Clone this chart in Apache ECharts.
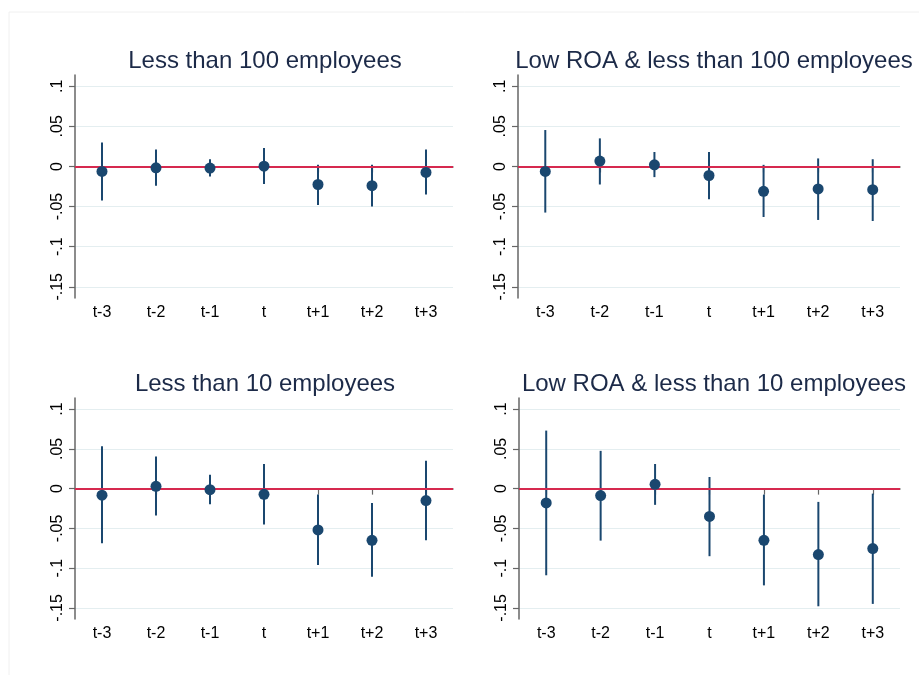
<!DOCTYPE html>
<html>
<head>
<meta charset="utf-8">
<script src="https://cdn.jsdelivr.net/npm/echarts@6/dist/echarts.min.js"></script>
<style>
html,body{margin:0;padding:0;background:#fff;}
#chart{width:919px;height:675px;}
</style>
</head>
<body>
<div id="chart"></div>
<script>
// ---- data ----
const categories = ['t-3', 't-2', 't-1', 't', 't+1', 't+2', 't+3'];
const yTicks = [-0.15, -0.1, -0.05, 0, 0.05, 0.1];
const yTickLabels = ['-.15', '-.1', '-.05', '0', '.05', '.1'];
const titles = ['Less than 100 employees', 'Low ROA & less than 100 employees',
                'Less than 10 employees', 'Low ROA & less than 10 employees'];

const p1Coef = [-0.0062, -0.0017, -0.0020, 0.0004, -0.0225, -0.0240, -0.0075];
const p1Hi   = [0.030, 0.021, 0.009, 0.023, 0.002, 0.002, 0.021];
const p1Lo   = [-0.0425, -0.024, -0.0125, -0.022, -0.048, -0.050, -0.035];

const p2Coef = [-0.0062, 0.0067, 0.0020, -0.0113, -0.031, -0.028, -0.029];
const p2Hi   = [0.0454, 0.035, 0.018, 0.018, 0.002, 0.010, 0.009];
const p2Lo   = [-0.0575, -0.0225, -0.0133, -0.041, -0.063, -0.0667, -0.068];

const p3Coef = [-0.0083, 0.0029, -0.0013, -0.0071, -0.052, -0.065, -0.015];
const p3Hi   = [0.0533, 0.0404, 0.0175, 0.031, -0.0075, -0.018, 0.035];
const p3Lo   = [-0.0688, -0.0338, -0.0196, -0.045, -0.096, -0.111, -0.065];

const p4Coef = [-0.018, -0.0088, 0.0054, -0.035, -0.065, -0.0829, -0.0754];
const p4Hi   = [0.073, 0.0475, 0.031, 0.0146, -0.0075, -0.0167, -0.0063];
const p4Lo   = [-0.109, -0.0654, -0.0204, -0.085, -0.1217, -0.148, -0.145];

const panels = [
  {coef: p1Coef, hi: p1Hi, lo: p1Lo},
  {coef: p2Coef, hi: p2Hi, lo: p2Lo},
  {coef: p3Coef, hi: p3Hi, lo: p3Lo},
  {coef: p4Coef, hi: p4Hi, lo: p4Lo}
];

// ---- layout / style ----
const FONT = 'Liberation Sans, Arial, Helvetica, sans-serif';
const NAVY = '#1a476f';
const grids = [
  {left: 75, top: 75, width: 378, height: 223},
  {left: 518, top: 75, width: 382, height: 223},
  {left: 75, top: 398, width: 378, height: 221},
  {left: 519, top: 398, width: 381, height: 221}
];
const titlePos = [
  {x: 260, y: 44}, {x: 709, y: 44}, {x: 260, y: 367}, {x: 709, y: 367}
];

const option = {
  backgroundColor: '#ffffff',
  animation: false,
  graphic: [{
    type: 'rect', shape: {x: 9, y: 12, width: 940, height: 700},
    style: {fill: 'none', stroke: '#f0f0f0', lineWidth: 1}, silent: true, z: -10
  }],
  title: titles.map((t, i) => ({
    text: t, left: titlePos[i].x, top: titlePos[i].y, textAlign: 'center',
    textStyle: {fontFamily: FONT, fontSize: 24, fontWeight: 'normal', color: '#1c2a48'}
  })),
  grid: grids.map(g => Object.assign({containLabel: false}, g)),
  xAxis: grids.map((g, i) => ({
    type: 'category', gridIndex: i, data: categories, boundaryGap: true,
    axisLine: {show: true, lineStyle: {color: '#666666', width: 1.5}},
    axisTick: {show: true, alignWithLabel: true, length: 6, lineStyle: {color: '#666666', width: 1.2}},
    axisLabel: {fontFamily: FONT, fontSize: 16, color: '#000', margin: 7, interval: 0},
    splitLine: {show: false}
  })),
  yAxis: grids.map((g, i) => ({
    type: 'value', gridIndex: i, min: -0.164, max: 0.114,
    axisLine: {show: true, lineStyle: {color: '#666666', width: 1.5}},
    axisTick: {show: true, length: 6, customValues: yTicks, lineStyle: {color: '#666666', width: 1.2}},
    axisLabel: {
      customValues: yTicks, rotate: 90, fontFamily: FONT, fontSize: 16, color: '#000', margin: 9,
      formatter: v => {
        const k = yTicks.findIndex(t => Math.abs(t - v) < 1e-9);
        return k >= 0 ? yTickLabels[k] : '';
      }
    },
    splitLine: {show: true, lineStyle: {color: '#e4eef0', width: 1}}
  })),
  series: []
};

panels.forEach((p, i) => {
  const ciData = categories.map((c, k) => [k, p.lo[k], p.hi[k]]);
  option.series.push({
    type: 'custom', xAxisIndex: i, yAxisIndex: i, z: 3,
    data: ciData,
    renderItem: (params, api) => {
      const a = api.coord([api.value(0), api.value(1)]);
      const b = api.coord([api.value(0), api.value(2)]);
      return {type: 'line', shape: {x1: a[0], y1: a[1], x2: b[0], y2: b[1]},
              style: {stroke: NAVY, lineWidth: 2}};
    },
    markLine: {
      silent: true, symbol: 'none', animation: false,
      label: {show: false},
      lineStyle: {color: '#d6294f', width: 1.8, type: 'solid'},
      data: [{yAxis: 0}]
    }
  });
  option.series.push({
    type: 'scatter', xAxisIndex: i, yAxisIndex: i, z: 5,
    symbol: 'circle', symbolSize: 11,
    itemStyle: {color: NAVY, opacity: 1},
    data: categories.map((c, k) => [k, p.coef[k]])
  });
});

const chart = echarts.init(document.getElementById('chart'), null, {renderer: 'canvas'});
chart.setOption(option);
</script>
</body>
</html>
